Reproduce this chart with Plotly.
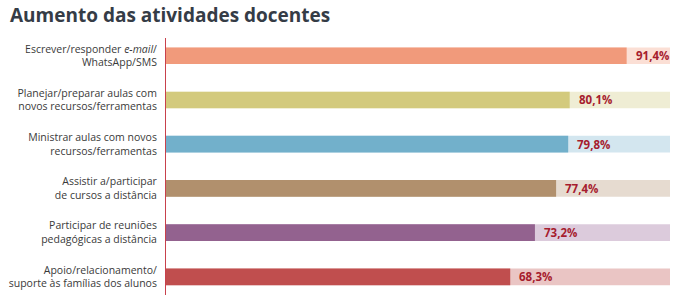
import plotly.graph_objects as go

# Activities and share of teachers reporting an increase (%)
categories = [
    "Escrever/responder <i>e-mail</i>/<br>WhatsApp/SMS",
    "Planejar/preparar aulas com<br>novos recursos/ferramentas",
    "Ministrar aulas com novos<br>recursos/ferramentas",
    "Assistir a/participar<br>de cursos a distância",
    "Participar de reuniões<br>pedagógicas a distância",
    "Apoio/relacionamento/<br>suporte às famílias dos alunos",
]
values = [91.4, 80.1, 79.8, 77.4, 73.2, 68.3]
value_labels = ["91,4%", "80,1%", "79,8%", "77,4%", "73,2%", "68,3%"]
full_scale = [100, 100, 100, 100, 100, 100]

bar_colors = ["#f19a7b", "#d3ca7d", "#72b0cb", "#b1906d", "#93628f", "#c04e4e"]
track_colors = ["#fbdfd5", "#efedd4", "#d3e6ef", "#e6dbd0", "#dccbdc", "#eac5c4"]

positions = list(range(len(categories)))
bar_width = 0.375

fig = go.Figure()

# Light full-length track behind each bar
fig.add_trace(go.Bar(
    x=full_scale, y=positions, orientation="h",
    marker=dict(color=track_colors, line=dict(width=0)),
    width=bar_width, hoverinfo="skip", showlegend=False,
))

# Actual value bars
fig.add_trace(go.Bar(
    x=values, y=positions, orientation="h",
    marker=dict(color=bar_colors, line=dict(width=0)),
    width=bar_width, showlegend=False,
))

for pos, val, lab in zip(positions, values, value_labels):
    fig.add_annotation(
        x=val, y=pos, text=f"<b>{lab}</b>", showarrow=False,
        xanchor="left", yanchor="middle", xshift=7,
        font=dict(family="Open Sans", size=11.5, color="#a61c2e"),
    )

fig.update_layout(
    barmode="overlay",
    width=681, height=305,
    margin=dict(l=166, r=11, t=38, b=10, autoexpand=False),
    paper_bgcolor="white", plot_bgcolor="white",
    font=dict(family="Open Sans", size=10.5, color="#3a3a3a"),
    title=dict(
        text="<b>Aumento das atividades docentes</b>",
        x=10 / 681, xanchor="left", xref="container",
        y=1 - 15 / 305, yanchor="middle", yref="container",
        font=dict(family="Open Sans", size=19, color="#353c46"),
    ),
    xaxis=dict(range=[0, 100], visible=False, fixedrange=True),
    yaxis=dict(
        range=[5.41, -0.40],
        tickvals=positions, ticktext=categories,
        automargin=False,
        showline=True, linecolor="#c8414c", linewidth=1,
        showgrid=False, zeroline=False, ticks="",
        ticklabelstandoff=6,
        tickfont=dict(family="Open Sans", size=10.5, color="#3a3a3a"),
    ),
)

fig.write_html("out.html")
